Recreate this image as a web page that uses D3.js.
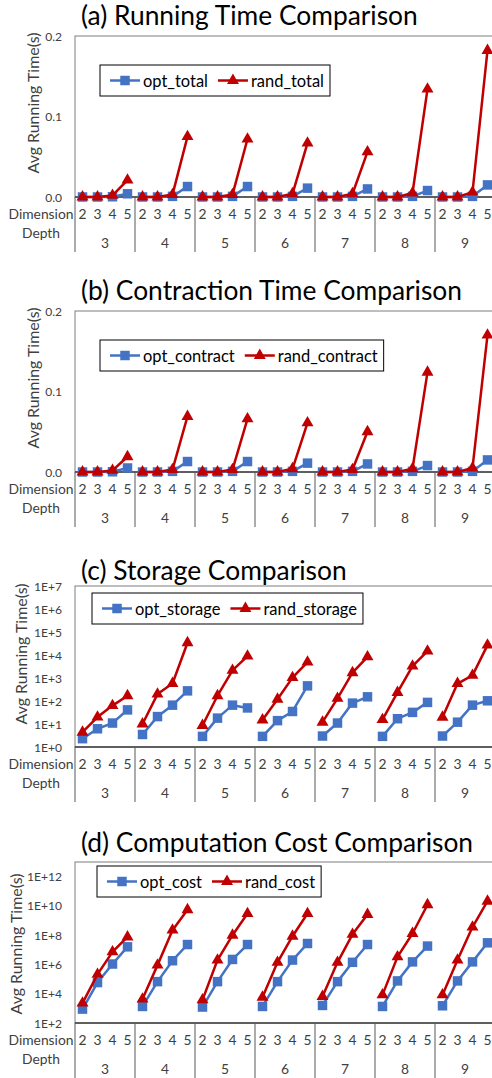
<!DOCTYPE html>
<html><head><meta charset="utf-8">
<script src="https://cdn.jsdelivr.net/npm/d3@7"></script>
<style>html,body{margin:0;padding:0;background:#fff;overflow:hidden}</style>
</head><body>
<svg id="c" width="492" height="1078"></svg>
<script>
// ---------- data ----------
const depths = ["3","4","5","6","7","8","9"];
const dims = ["2","3","4","5"];
const titles = ["(a) Running Time Comparison","(b) Contraction Time Comparison","(c) Storage Comparison","(d) Computation Cost Comparison"];
const yTitle = "Avg Running Time(s)";
const optNames = ["opt_total","opt_contract","opt_storage","opt_cost"];
const randNames = ["rand_total","rand_contract","rand_storage","rand_cost"];
const ticksA = [0, 0.1, 0.2];
const ticksC = [1e0,1e1,1e2,1e3,1e4,1e5,1e6,1e7];
const ticksD = [1e2,1e4,1e6,1e8,1e10,1e12];

const optTotal = [0,0,0.0003,0.004, 0,0,0.0008,0.013, 0,0,0.0008,0.013, 0,0,0.0008,0.011, 0,0,0.0008,0.010, 0,0,0.0008,0.008, 0,0,0.0008,0.015];
const randTotal = [0,0,0.002,0.021, 0,0,0.003,0.075, 0,0,0.003,0.072, 0,0,0.004,0.067, 0,0,0.004,0.056, 0,0,0.005,0.134, 0,0,0.006,0.182];
const optContract = [0,0,0.0003,0.005, 0,0,0.0008,0.013, 0,0,0.0008,0.013, 0,0,0.0008,0.011, 0,0,0.0008,0.010, 0,0,0.0008,0.008, 0,0,0.0008,0.015];
const randContract = [0,0,0.002,0.019, 0,0,0.003,0.069, 0,0,0.003,0.066, 0,0,0.004,0.061, 0,0,0.003,0.050, 0,0,0.004,0.124, 0,0,0.005,0.170];
const optStorage = [2.3,6.2,11,41, 3.5,21,66,276, 2.9,18,66,50, 2.9,14,35,455, 3,11,81,152, 2.9,17,32,87, 3,12,66,102];
const randStorage = [4.4,20,63,170, 10,200,575,34000, 8.6,170,2150,8900, 15,120,1040,4900, 12,130,1700,8300, 15.5,235,3300,14700, 19.6,575,1300,27000];
const optCost = [890,5.8e4,1.07e6,1.6e7, 1350,6.7e4,1.8e6,2.3e7, 1230,6.7e4,2.2e6,2.3e7, 1350,6.7e4,2e6,2.7e7, 1580,6.7e4,1.4e6,2.3e7, 1350,7.5e4,1.5e6,1.8e7, 1500,7.5e4,1.5e6,3e7];
const randCost = [2300,2.1e5,7.3e6,7.6e7, 4300,9e5,2.2e8,5.5e9, 3800,2e6,1e8,3e9, 5800,1.4e6,8.5e7,3e9, 6500,1.4e6,1.15e8,2.6e9, 8300,3.3e6,1.3e8,1.2e10, 8300,2e6,3.6e8,2.1e10];

// ---------- style/layout ----------
const FONT = "Lato, 'Open Sans', sans-serif";
const BLUE = "#4472C4", RED = "#C00000";
const svg = d3.select("#c");

function fitSize(text, target){
  const t = svg.append("text").attr("font-family",FONT).attr("font-size",100).text(text);
  const w = t.node().getComputedTextLength(); t.remove();
  return 100*target/w;
}
const fsTitle = fitSize(titles[0], 337);
const fsYT = fitSize(yTitle, 141);
const fsLeg = fitSize("opt_total", 65);
const fsTick = fitSize("1E+12", 35);
const fsCat = fitSize("Dimension", 65);

const cats = [];
depths.forEach(g => dims.forEach(d => cats.push(g+"-"+d)));
const x = d3.scaleBand().domain(cats).range([75, 495]);

const panels = [
  {top:36, opt:optTotal, rand:randTotal, y:d3.scaleLinear().domain([0,0.2]), ticks:ticksA, fmt:d3.format(".1f"), tb:25, yl:[32,103], leg:[100,65]},
  {top:311, opt:optContract, rand:randContract, y:d3.scaleLinear().domain([0,0.2]), ticks:ticksA, fmt:d3.format(".1f"), tb:300, yl:[32,378], leg:[100,340]},
  {top:586, opt:optStorage, rand:randStorage, y:d3.scaleLog().domain([1,1e7]), ticks:ticksC, fmt:v=>"1E+"+Math.round(Math.log10(v)), tb:580, yl:[20,654], leg:[92,593]},
  {top:862, opt:optCost, rand:randCost, y:d3.scaleLog().domain([1e2,1e13]), ticks:ticksD, fmt:v=>"1E+"+Math.round(Math.log10(v)), tb:852, yl:[15,944], leg:[97,866]}
];

const tri = d3.symbol().type(d3.symbolTriangle).size(62);
const sq = d3.symbol().type(d3.symbolSquare).size(90);

panels.forEach((p,pi) => {
  const bottom = p.top + 161;
  p.y.range([bottom, p.top]);
  const g = svg.append("g");

  // title
  g.append("text").attr("x",81).attr("y",p.tb).attr("font-family",FONT).attr("font-size",fsTitle).attr("fill","#000").text(titles[pi]);

  // plot border
  g.append("rect").attr("x",75).attr("y",p.top).attr("width",420).attr("height",161).attr("fill","none").attr("stroke","#7f7f7f").attr("stroke-width",1);
  // axis baseline
  g.append("line").attr("x1",75).attr("x2",495).attr("y1",bottom).attr("y2",bottom).attr("stroke","#000").attr("stroke-width",1.2);

  // y ticks
  g.selectAll(".yt").data(p.ticks).join("text").attr("x",62).attr("y",d=>p.y(d)).attr("text-anchor","end").attr("dominant-baseline","central").attr("font-family",FONT).attr("font-size",fsTick).attr("fill","#404040").text(p.fmt);

  // y title
  g.append("text").attr("transform",`translate(${p.yl[0]},${p.yl[1]}) rotate(-90)`).attr("text-anchor","middle").attr("dominant-baseline","central").attr("font-family",FONT).attr("font-size",fsYT).attr("fill","#404040").text(yTitle);

  // category separators
  depths.forEach((d,k) => {
    const xs = x(d+"-2");
    g.append("line").attr("x1",xs).attr("x2",xs).attr("y1",bottom).attr("y2",bottom+55).attr("stroke","#595959").attr("stroke-width",1);
  });
  // inner labels
  g.selectAll(".il").data(cats).join("text").attr("x",d=>x(d)+x.bandwidth()/2).attr("y",bottom+16.5).attr("text-anchor","middle").attr("dominant-baseline","central").attr("font-family",FONT).attr("font-size",fsCat).attr("fill","#404040").text(d=>d.split("-")[1]);
  // group labels
  g.selectAll(".gl").data(depths).join("text").attr("x",d=>x(d+"-2")+x.bandwidth()*2).attr("y",bottom+45.5).attr("text-anchor","middle").attr("dominant-baseline","central").attr("font-family",FONT).attr("font-size",fsCat).attr("fill","#404040").text(d=>d);
  g.append("text").attr("x",41).attr("y",bottom+16.5).attr("text-anchor","middle").attr("dominant-baseline","central").attr("font-family",FONT).attr("font-size",fsCat).attr("fill","#404040").text("Dimension");
  g.append("text").attr("x",41).attr("y",bottom+35).attr("text-anchor","middle").attr("dominant-baseline","central").attr("font-family",FONT).attr("font-size",fsCat).attr("fill","#404040").text("Depth");

  // series
  const series = [{vals:p.opt,color:BLUE,sym:sq},{vals:p.rand,color:RED,sym:tri}];
  series.forEach(s => {
    depths.forEach((d,k) => {
      const pts = dims.map((dm,j) => [x(d+"-"+dm)+x.bandwidth()/2, p.y(Math.max(s.vals[k*4+j], p.y.domain()[0]))]);
      g.append("path").attr("d",d3.line()(pts)).attr("fill","none").attr("stroke",s.color).attr("stroke-width",2.5).attr("stroke-linejoin","round");
      g.selectAll(null).data(pts).join("path").attr("transform",q=>`translate(${q[0]},${q[1]})`).attr("d",s.sym()).attr("fill",s.color);
    });
  });

  // legend
  const lx = p.leg[0], ly = p.leg[1], lh = 31, cy = ly+lh/2;
  const lg = g.append("g");
  const box = lg.append("rect").attr("x",lx).attr("y",ly).attr("height",lh).attr("fill","#fff").attr("stroke","#000").attr("stroke-width",1);
  let cx = lx + 10;
  [{n:optNames[pi],c:BLUE,s:sq},{n:randNames[pi],c:RED,s:tri}].forEach((it,i) => {
    lg.append("line").attr("x1",cx).attr("x2",cx+30).attr("y1",cy).attr("y2",cy).attr("stroke",it.c).attr("stroke-width",2.5);
    lg.append("path").attr("transform",`translate(${cx+15},${cy})`).attr("d",it.s()).attr("fill",it.c);
    const t = lg.append("text").attr("x",cx+33).attr("y",cy).attr("dominant-baseline","central").attr("font-family",FONT).attr("font-size",fsLeg).attr("fill","#000").text(it.n);
    cx = cx + 33 + t.node().getComputedTextLength() + 10;
  });
  box.attr("width", cx - 10 + 6 - lx);
});
</script>
</body></html>
